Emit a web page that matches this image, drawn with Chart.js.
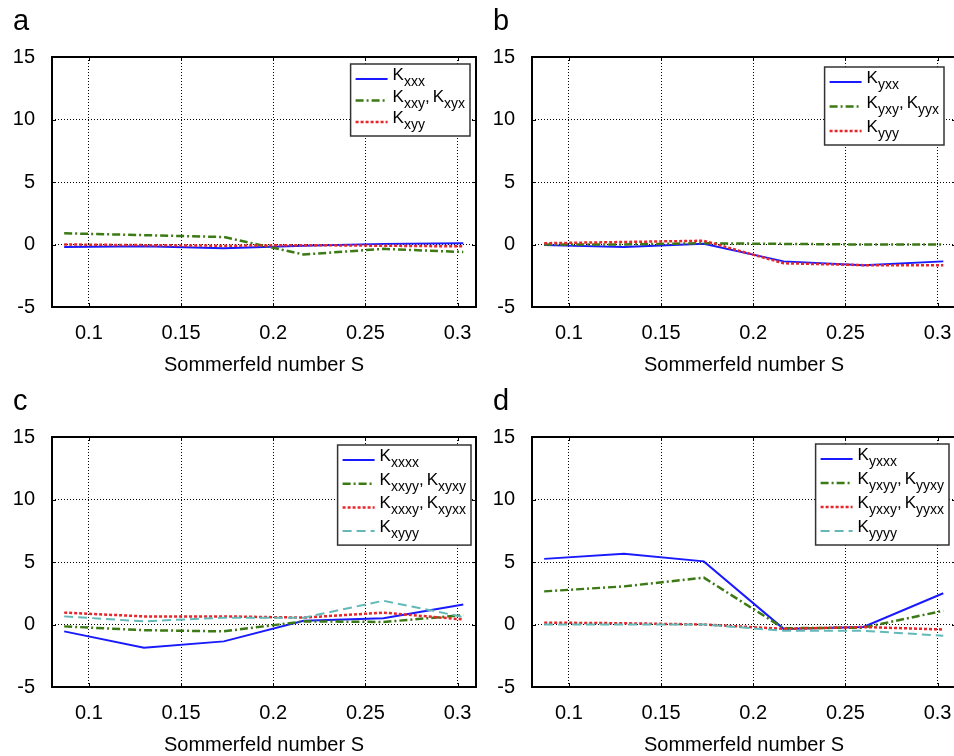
<!DOCTYPE html>
<html>
<head>
<meta charset="utf-8">
<script src="https://cdn.jsdelivr.net/npm/chart.js@4.4.0/dist/chart.umd.min.js"></script>
<style>
html, body { margin: 0; padding: 0; background: #fff; width: 954px; height: 756px; overflow: hidden; }
.panel { position: absolute; width: 480px; height: 380px; }
</style>
</head>
<body>
<div class="panel" style="left:0;top:0"><canvas id="graficaA"></canvas></div>
<div class="panel" style="left:480px;top:0"><canvas id="graficaB"></canvas></div>
<div class="panel" style="left:0;top:380px"><canvas id="graficaC"></canvas></div>
<div class="panel" style="left:480px;top:380px"><canvas id="graficaD"></canvas></div>
<script>
// Numero de Sommerfeld (eje x) y marcas del eje
const sommerfeld = [0.0866, 0.1299, 0.1732, 0.2165, 0.2598, 0.3031];
const ticksX = [0.1, 0.15, 0.2, 0.25, 0.3];
const ticksY = [-5, 0, 5, 10, 15];

// a: coeficientes de segundo orden, direccion x
const kxxx = [-0.2, -0.15, -0.3, -0.1, 0.05, 0.1];
const kxxy = [0.9, 0.75, 0.6, -0.8, -0.35, -0.6];
const kxyy = [0.0, -0.05, -0.1, -0.05, -0.1, -0.15];

// b: coeficientes de segundo orden, direccion y
const kyxx = [-0.05, -0.2, 0.05, -1.35, -1.65, -1.35];
const kyxy = [0.0, 0.0, 0.1, 0.05, 0.0, 0.0];
const kyyy = [0.1, 0.2, 0.3, -1.5, -1.65, -1.65];

// c: coeficientes de tercer orden, direccion x
const kxxxx = [-0.55, -1.85, -1.35, 0.3, 0.5, 1.6];
const kxxyy = [-0.15, -0.45, -0.55, 0.25, 0.2, 0.75];
const kxxxy = [0.95, 0.65, 0.65, 0.55, 0.95, 0.4];
const kxyyy = [0.65, 0.25, 0.55, 0.55, 1.9, 0.6];

// d: coeficientes de tercer orden, direccion y
const kyxxx = [5.25, 5.65, 5.05, -0.35, -0.2, 2.5];
const kyxyy = [2.65, 3.05, 3.75, -0.3, -0.25, 1.1];
const kyxxy = [0.15, 0.1, 0.0, -0.35, -0.2, -0.4];
const kyyyy = [0.0, 0.0, 0.0, -0.5, -0.5, -0.9];

const FUENTE = 'Arial, "Liberation Sans", Helvetica, sans-serif';

const estilos = [
    { color: '#1a1aff', dash: [], width: 2 },            // continua
    { color: '#3b7a14', dash: [8, 3, 2, 3], width: 2.5 }, // punto y raya
    { color: '#e5262b', dash: [3, 2], width: 2.5 },       // punteada
    { color: '#63b8b8', dash: [9, 5], width: 2 }          // rayas
];

function serie(valores, subs, i) {
    const est = estilos[i];
    return {
        label: subs.map(s => 'K' + s).join(', '),
        subs: subs,
        data: sommerfeld.map((x, k) => ({ x: x, y: valores[k] })),
        borderColor: est.color,
        backgroundColor: est.color,
        borderDash: est.dash,
        borderWidth: est.width,
        pointRadius: 0,
        tension: 0,
        fill: false,
        order: 10 - i // las ultimas series quedan encima, como en el original
    };
}

function medirEtiqueta(ctx, subs) {
    let ancho = 0;
    subs.forEach((s, i) => {
        ctx.font = '17px ' + FUENTE;
        ancho += ctx.measureText('K').width;
        ctx.font = '14px ' + FUENTE;
        ancho += ctx.measureText(s).width;
        if (i < subs.length - 1) {
            ctx.font = '17px ' + FUENTE;
            ancho += ctx.measureText(',').width + 3;
        }
    });
    return ancho;
}

function dibujarEtiqueta(ctx, subs, x, y) {
    subs.forEach((s, i) => {
        ctx.font = '17px ' + FUENTE;
        ctx.fillText('K', x, y + 1);
        x += ctx.measureText('K').width;
        ctx.font = '14px ' + FUENTE;
        ctx.fillText(s, x, y + 7);
        x += ctx.measureText(s).width;
        if (i < subs.length - 1) {
            ctx.font = '17px ' + FUENTE;
            ctx.fillText(',', x, y + 1);
            x += ctx.measureText(',').width + 3;
        }
    });
}

const marcoPlugin = {
    id: 'marco',
    afterDraw(chart, args, opts) {
        const ctx = chart.ctx;
        const a = chart.chartArea;
        const sx = chart.scales.x, sy = chart.scales.y;
        ctx.save();
        // marcas interiores estilo MATLAB
        ctx.strokeStyle = '#000';
        ctx.lineWidth = 1;
        ctx.setLineDash([]);
        ctx.beginPath();
        ticksX.forEach(v => {
            const px = Math.round(sx.getPixelForValue(v)) + 0.5;
            ctx.moveTo(px, a.top); ctx.lineTo(px, a.top + 4);
            ctx.moveTo(px, a.bottom); ctx.lineTo(px, a.bottom - 4);
        });
        ticksY.forEach(v => {
            const py = Math.round(sy.getPixelForValue(v)) + 0.5;
            ctx.moveTo(a.left, py); ctx.lineTo(a.left + 4, py);
            ctx.moveTo(a.right, py); ctx.lineTo(a.right - 4, py);
        });
        ctx.stroke();
        // marco
        ctx.lineWidth = 2;
        ctx.strokeRect(a.left, a.top, a.right - a.left, a.bottom - a.top);

        // leyenda
        const datasets = chart.data.datasets;
        const anchoTexto = Math.max(...datasets.map(ds => medirEtiqueta(ctx, ds.subs)));
        const largoMuestra = 32;
        const boxW = 5 + largoMuestra + 5 + anchoTexto + 5;
        const boxH = opts.rowGap * (datasets.length - 1) + 29;
        const boxX = a.right - opts.right - boxW;
        const boxY = a.top + opts.top;
        ctx.fillStyle = '#fff';
        ctx.fillRect(boxX, boxY, boxW, boxH);
        ctx.strokeStyle = '#333';
        ctx.lineWidth = 1.5;
        ctx.strokeRect(boxX, boxY, boxW, boxH);
        datasets.forEach((ds, i) => {
            const y = boxY + 15 + i * opts.rowGap;
            ctx.strokeStyle = ds.borderColor;
            ctx.lineWidth = ds.borderWidth;
            ctx.setLineDash(ds.borderDash);
            ctx.beginPath();
            ctx.moveTo(boxX + 5, y);
            ctx.lineTo(boxX + 5 + largoMuestra, y);
            ctx.stroke();
            ctx.setLineDash([]);
            ctx.fillStyle = '#000';
            ctx.textBaseline = 'alphabetic';
            ctx.textAlign = 'left';
            dibujarEtiqueta(ctx, ds.subs, boxX + 5 + largoMuestra + 5, y);
        });

        // letra del panel
        ctx.fillStyle = '#000';
        ctx.font = '29px ' + FUENTE;
        ctx.textBaseline = 'alphabetic';
        ctx.fillText(opts.letra, 13, 30);
        ctx.restore();
    }
};

function crearPanel(id, letra, series, leyenda) {
    const ctx = document.getElementById(id).getContext('2d');
    return new Chart(ctx, {
        type: 'line',
        data: { datasets: series },
        plugins: [marcoPlugin],
        options: {
            responsive: true,
            maintainAspectRatio: false,
            animation: false,
            layout: { padding: { top: 57, right: 4, left: 0, bottom: 0 } },
            plugins: {
                legend: { display: false },
                tooltip: { enabled: false },
                marco: Object.assign({ letra: letra }, leyenda)
            },
            scales: {
                x: {
                    type: 'linear',
                    min: 0.08,
                    max: 0.31,
                    afterBuildTicks: s => { s.ticks = ticksX.map(v => ({ value: v })); },
                    afterFit: s => {
                        s.height = 73;
                        s.paddingLeft = 0;
                        s.paddingRight = 0;
                    },
                    ticks: {
                        color: '#000',
                        font: { family: FUENTE, size: 20 },
                        padding: 14,
                        maxRotation: 0,
                        callback: v => String(Number(v.toFixed(2)))
                    },
                    grid: { color: '#000', lineWidth: 1, drawTicks: false },
                    border: { display: false, dash: [1, 2] },
                    title: {
                        display: true,
                        text: 'Sommerfeld number S',
                        color: '#000',
                        font: { family: FUENTE, size: 20 },
                        padding: { top: 0, bottom: 3 }
                    }
                },
                y: {
                    min: -5,
                    max: 15,
                    afterBuildTicks: s => { s.ticks = ticksY.map(v => ({ value: v })); },
                    afterFit: s => {
                        s.width = 52;
                        s.paddingTop = 0;
                        s.paddingBottom = 0;
                    },
                    ticks: {
                        color: '#000',
                        font: { family: FUENTE, size: 20 },
                        padding: 17
                    },
                    grid: { color: '#000', lineWidth: 1, drawTicks: false },
                    border: { display: false, dash: [1, 2] }
                }
            }
        }
    });
}

crearPanel('graficaA', 'a', [
    serie(kxxx, ['xxx'], 0),
    serie(kxxy, ['xxy', 'xyx'], 1),
    serie(kxyy, ['xyy'], 2)
], { right: 6, top: 7, rowGap: 21.5 });

crearPanel('graficaB', 'b', [
    serie(kyxx, ['yxx'], 0),
    serie(kyxy, ['yxy', 'yyx'], 1),
    serie(kyyy, ['yyy'], 2)
], { right: 12, top: 10, rowGap: 24.5 });

crearPanel('graficaC', 'c', [
    serie(kxxxx, ['xxxx'], 0),
    serie(kxxyy, ['xxyy', 'xyxy'], 1),
    serie(kxxxy, ['xxxy', 'xyxx'], 2),
    serie(kxyyy, ['xyyy'], 3)
], { right: 5, top: 8, rowGap: 23.7 });

crearPanel('graficaD', 'd', [
    serie(kyxxx, ['yxxx'], 0),
    serie(kyxyy, ['yxyy', 'yyxy'], 1),
    serie(kyxxy, ['yxxy', 'yyxx'], 2),
    serie(kyyyy, ['yyyy'], 3)
], { right: 7, top: 7, rowGap: 24 });
</script>
</body>
</html>
